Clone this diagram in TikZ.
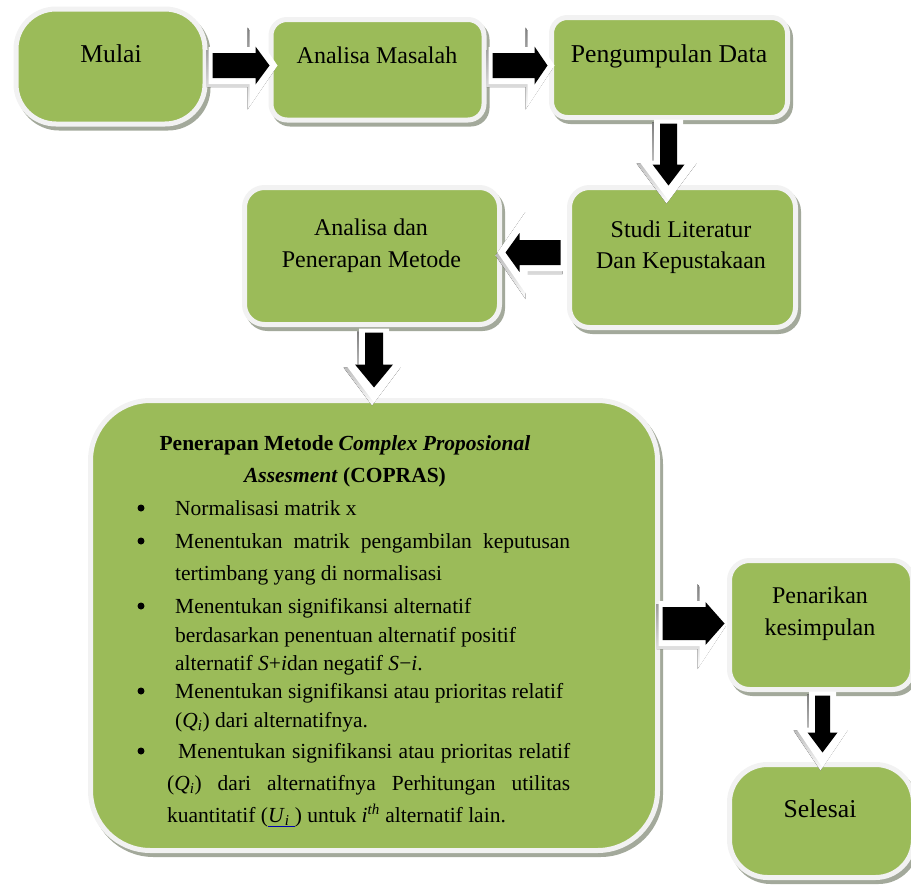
\documentclass[tikz,border=0pt]{standalone}
\usepackage{fontspec}
\setmainfont{Liberation Serif}[Ligatures=NoCommon]
\usetikzlibrary{calc}
\definecolor{boxgreen}{HTML}{9BBB59}
\definecolor{boxedge}{HTML}{F2F2F2}
\definecolor{shade}{HTML}{A3A99B}
% block arrow: #1 tail position, #2 angle, #3 shaft half width, #4 head base,
% #5 head half width, #6 tip, #7 chevron base, #8 chevron half width, #9 chevron tip
\newcommand\blockarr[9]{%
  \begin{scope}[shift={#1}, rotate=#2]
    \fill[shade, transform canvas={shift={(-2pt,-3pt)}}]
      (-4,-#3-6) -- (#7,-#3-6) -- (#7,-#8) -- (#9,0) -- (#7,#8) -- (#7,#3+6) -- (-4,#3+6) -- cycle;
    \fill[white]
      (-4,-#3-6) -- (#7,-#3-6) -- (#7,-#8) -- (#9,0) -- (#7,#8) -- (#7,#3+6) -- (-4,#3+6) -- cycle;
    \fill[black]
      (0,-#3) -- (#4,-#3) -- (#4,-#5) -- (#6,0) -- (#4,#5) -- (#4,#3) -- (0,#3) -- cycle;
  \end{scope}}
\begin{document}
\begin{tikzpicture}[x=1pt,y=-1pt,
  box/.style={draw=boxedge, line width=5pt, fill=boxgreen, inner sep=0pt,
    rounded corners=#1,
    preaction={draw=shade, fill=shade, line width=5pt,
      transform canvas={shift={(3pt,-4pt)}}}},
  box/.default=18pt,
  txt/.style={font=\fontsize{24}{30}\selectfont, anchor=base, inner sep=0pt},
  bigtxt/.style={font=\fontsize{25.7}{30}\selectfont, anchor=base, inner sep=0pt},
  body/.style={font=\fontsize{21.5}{30}\selectfont, anchor=base west, inner sep=0pt},
  ttl/.style={font=\fontsize{21.5}{30}\selectfont\bfseries, anchor=base, inner sep=0pt},
  bul/.style={circle, fill=black, inner sep=0pt, minimum size=7pt}]
\useasboundingbox (0,0) rectangle (911,886);

% boxes
\node[box=40pt, minimum width=189pt, minimum height=115pt] (mulai) at (110.5,66.5) {};
\node[box=16pt, minimum width=213pt, minimum height=100.5pt] (am) at (377.5,69.75) {};
\node[box=16pt, minimum width=236pt, minimum height=100pt] (pd) at (669.5,67.5) {};
\node[box=20pt, minimum width=226pt, minimum height=140pt] (sl) at (682.5,257.5) {};
\node[box=20pt, minimum width=255pt, minimum height=137pt] (ap) at (372,256) {};
\node[box=60pt, minimum width=567pt, minimum height=450pt] (cop) at (374,625.5) {};
\node[box=20pt, minimum width=183pt, minimum height=129pt] (pk) at (821,625) {};
\node[box=38pt, minimum width=184pt, minimum height=113pt] (sel) at (821.5,821) {};

% arrows
\blockarr{($(mulai.east)+(5,-1)$)}{0}{12.5}{43}{19}{57}{37}{41}{65}
\blockarr{($(am.east)+(6,-4.25)$)}{0}{12.5}{42}{19}{55}{35}{41}{62}
\blockarr{($(pd.south)+(-1,3.5)$)}{-90}{8.5}{41}{16}{62}{37}{30}{77}
\blockarr{($(sl.west)+(-6.5,-5)$)}{180}{12.5}{41}{19.5}{55}{33}{43.5}{63}
\blockarr{($(ap.south)+(2,5.5)$)}{-90}{9}{32}{19}{55}{32}{28.5}{70}
\blockarr{($(cop.east)+(2.5,-2)$)}{0}{16.5}{43}{21.5}{62}{37}{42.5}{65}
\blockarr{($(pk.south)+(1.5,3.5)$)}{-90}{7.5}{37}{15}{57}{32}{27}{72}

% box texts
\node[bigtxt] (t-mulai) at (111,62) {Mulai};
\node[txt] (t-am) at (377,63) {Analisa Masalah};
\node[bigtxt] (t-pd) at (669,62) {Pengumpulan Data};
\node[txt] (t-sl1) at (681,237) {Studi Literatur};
\node[txt] (t-sl2) at (681,268) {Dan Kepustakaan};
\node[txt] (t-ap1) at (371,235) {Analisa dan};
\node[txt] (t-ap2) at (371.5,267) {Penerapan Metode};
\node[txt] (t-pk1) at (820,603) {Penarikan};
\node[txt] (t-pk2) at (820,635) {kesimpulan};
\node[bigtxt] (t-sel) at (820,817) {Selesai};

% COPRAS box content
\node[ttl] (c-t1) at (345,450) {Penerapan Metode \textit{Complex Proposional}};
\node[ttl] (c-t2) at (345,482) {\textit{Assesment} (COPRAS)};
\node[bul] (b1) at (141,508) {};
\node[bul] (b2) at (141,541) {};
\node[bul] (b3) at (141,606) {};
\node[bul] (b4) at (141,691) {};
\node[bul] (b5) at (141,751) {};
\node[body] (c-l1) at (175,515) {Normalisasi matrik x};
\node[body] (c-l2) at (175,548) {\makebox[395pt][s]{Menentukan matrik pengambilan keputusan}};
\node[body] (c-l3) at (175,580) {tertimbang yang di normalisasi};
\node[body] (c-l4) at (175,613) {Menentukan signifikansi alternatif};
\node[body] (c-l5) at (175,642) {berdasarkan penentuan alternatif positif};
\node[body] (c-l6) at (175,670) {alternatif \textit{S}+\textit{i}dan negatif \textit{S}\char"2212\textit{i}.};
\node[body] (c-l7) at (175,698) {Menentukan signifikansi atau prioritas relatif};
\node[body] (c-l8) at (175,727) {(\textit{Q}\textsubscript{\textit{i}}) dari alternatifnya.};
\node[body] (c-l9) at (178,758) {\makebox[392pt][s]{Menentukan signifikansi atau prioritas relatif}};
\node[body] (c-l10) at (167,790) {\makebox[403pt][s]{(\textit{Q}\textsubscript{\textit{i}}) dari alternatifnya Perhitungan utilitas}};
\node[body] (c-l11) at (167,822) {kuantitatif (\textcolor{blue!70!black}{\underline{\textcolor{black}{\textit{U}\textsubscript{\textit{i}}\ }}}) untuk \textit{i}\textsuperscript{\textit{th}} alternatif lain.};
\end{tikzpicture}
\end{document}
